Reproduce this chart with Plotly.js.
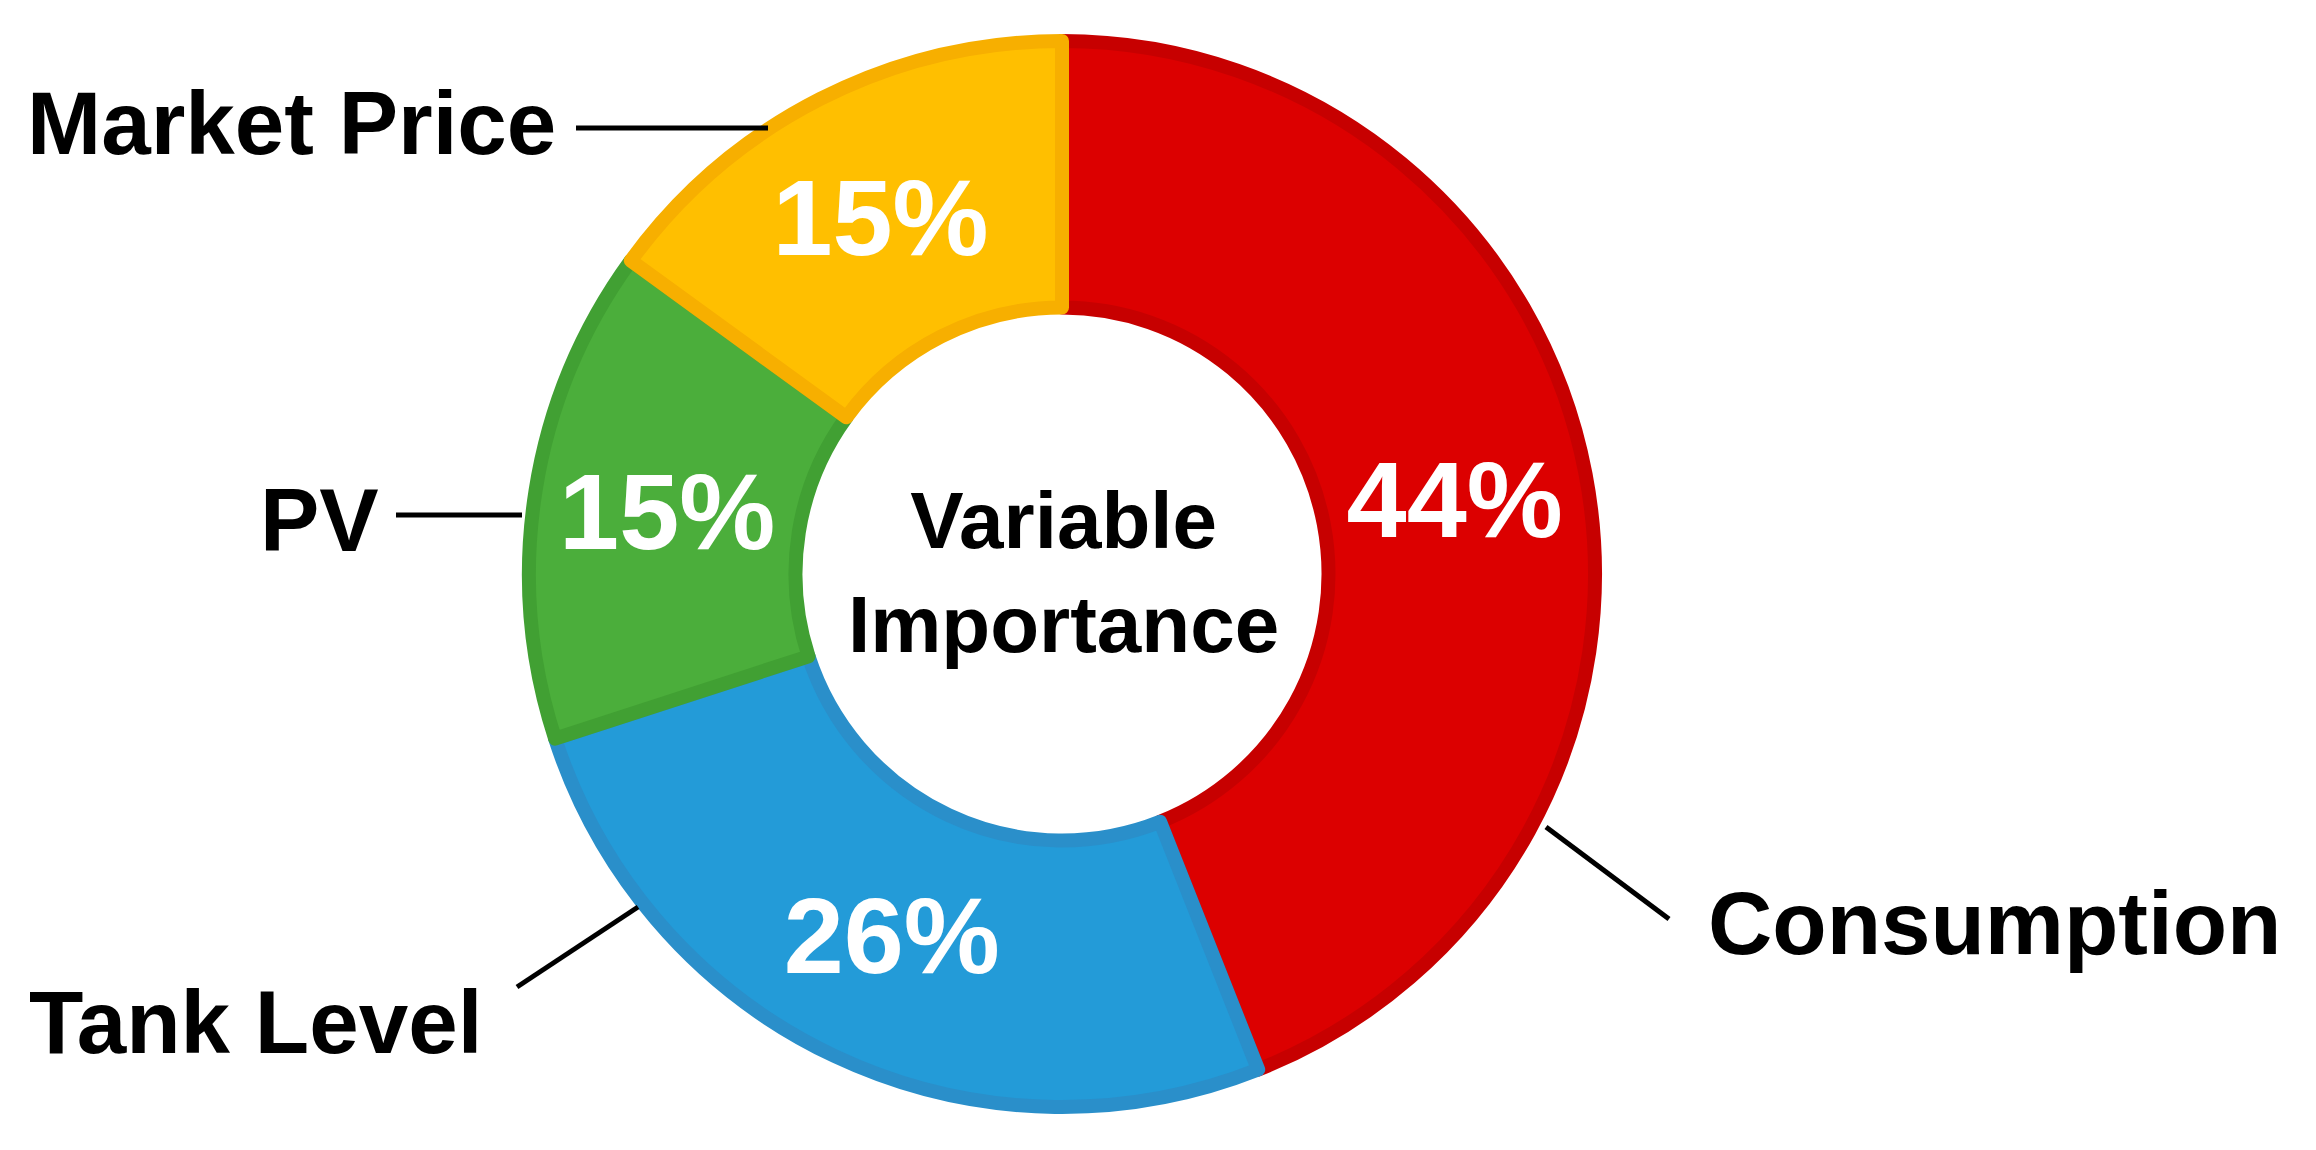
<!DOCTYPE html>
<html>
<head>
<meta charset="utf-8">
<script src="https://cdn.plot.ly/plotly-3.0.1.min.js"></script>
<style>
  html, body { margin: 0; padding: 0; background: #ffffff; }
  #chart { width: 2316px; height: 1150px; }
</style>
</head>
<body>
<div id="chart"></div>
<script>
// ---- Data ----
const categories = ["Consumption", "Tank Level", "PV", "Market Price"];
const importance = [44, 26, 15, 15];
const fillColors = ["#DC0000", "#239BD8", "#4BAE3B", "#FFBF00"];
const edgeColors = ["#C70000", "#2A8FCA", "#41A033", "#F7AF00"];
const centerTitle = "Variable<br>Importance";

// ---- Layout helpers ----
const W = 2316, H = 1150;
const px = x => x / W;
const py = y => 1 - y / H;
const FONT = '"Liberation Sans", Arial, Helvetica, sans-serif';

const cx = 1062, cy = 574, r = 533;

const trace = {
  type: 'pie',
  values: importance,
  labels: categories,
  sort: false,
  direction: 'clockwise',
  rotation: 0,
  hole: 0.5,
  marker: { colors: fillColors, line: { color: edgeColors, width: 14 } },
  textinfo: 'percent',
  texttemplate: '%{percent:.0%}',
  textposition: 'inside',
  insidetextorientation: 'horizontal',
  textfont: { family: FONT, size: 108, color: '#ffffff', weight: 'bold' },
  showlegend: false,
  hoverinfo: 'label+percent',
  domain: { x: [px(cx - r), px(cx + r)], y: [py(cy + r), py(cy - r)] }
};

// outer label positions (pixel space) and leader lines
const labelSpecs = [
  { text: "Market Price", x: 558, y: 123, anchor: 'right', line: [[576, 128], [768, 128]] },
  { text: "PV", x: 381, y: 520, anchor: 'right', line: [[396, 515], [522, 515]] },
  { text: "Tank Level", x: 27, y: 1022, anchor: 'left', line: [[517, 987], [638, 907]] },
  { text: "Consumption", x: 1706, y: 923, anchor: 'left', line: [[1546, 827], [1669, 919]] }
];

const annotations = labelSpecs.map(s => ({
  text: '<b>' + s.text + '</b>',
  x: px(s.x), y: py(s.y), xref: 'paper', yref: 'paper',
  xanchor: s.anchor, yanchor: 'middle', showarrow: false,
  font: { family: FONT, size: 89, color: '#000000' }
}));
annotations.push({
  text: '<b>' + centerTitle + '</b>',
  x: px(1063), y: py(572), xref: 'paper', yref: 'paper',
  xanchor: 'center', yanchor: 'middle', showarrow: false,
  font: { family: FONT, size: 80, color: '#000000' }
});

const shapes = labelSpecs.map(s => ({
  type: 'line', xref: 'paper', yref: 'paper',
  x0: px(s.line[0][0]), y0: py(s.line[0][1]),
  x1: px(s.line[1][0]), y1: py(s.line[1][1]),
  line: { color: '#000000', width: 5 }
}));

const layout = {
  width: W, height: H,
  margin: { l: 0, r: 0, t: 0, b: 0 },
  paper_bgcolor: '#ffffff',
  plot_bgcolor: '#ffffff',
  annotations: annotations,
  shapes: shapes,
  uniformtext: { mode: false }
};

Plotly.newPlot('chart', [trace], layout, { displayModeBar: false, staticPlot: true });
</script>
</body>
</html>
